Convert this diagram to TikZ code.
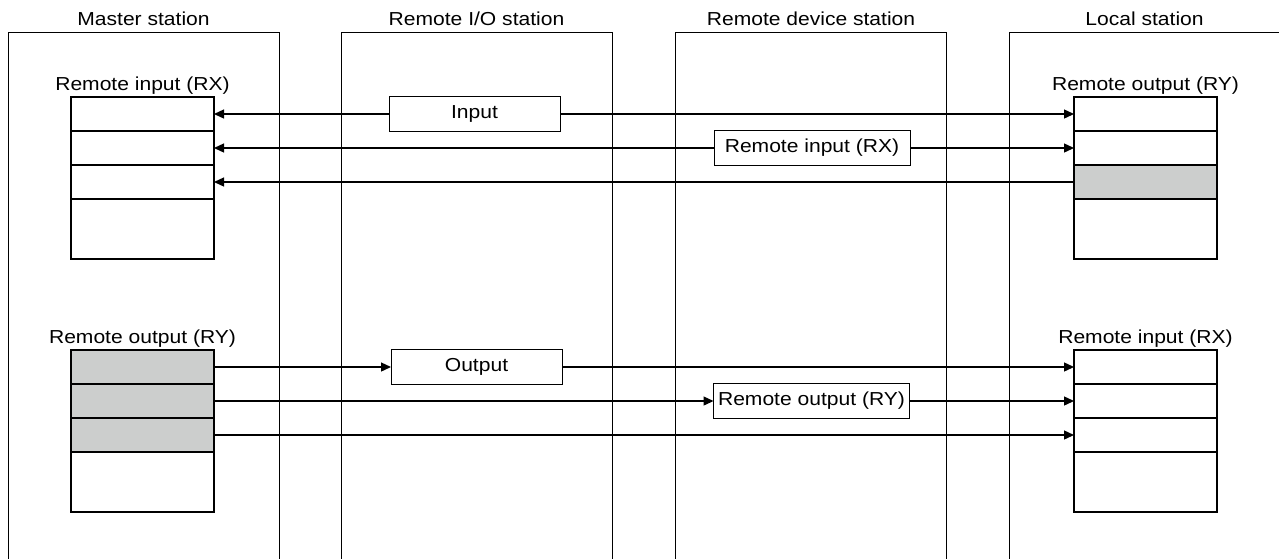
\documentclass[tikz,border=0pt]{standalone}
\usepackage{fontspec}
\setmainfont{Liberation Sans}[FakeStretch=1.12]
\usetikzlibrary{positioning,arrows.meta}
\definecolor{regfill}{RGB}{204,206,205}

\begin{document}
\begin{tikzpicture}[x=0.5pt,y=-0.5pt,font=\fontsize{9.4pt}{11pt}\selectfont,
    station/.style={draw,line width=0.5pt,minimum width=135.5pt,minimum height=266pt,inner sep=0pt,outer sep=0pt},
    cell/.style={draw,line width=0.6pt,minimum width=71.5pt,minimum height=17pt,inner sep=0pt,outer sep=0pt},
    lastcell/.style={cell,minimum height=30pt},
    ttl/.style={inner sep=0pt,text depth=0pt},
    databox/.style={draw,line width=0.5pt,minimum height=17.5pt,inner sep=0pt,outer sep=0pt},
    sig/.style={line width=0.65pt,-{Triangle[length=5pt,width=4.5pt]}}]
        \useasboundingbox (0,0) rectangle (1279,558);
        % stations
        \node[station] (master) at (143.5,298) {};
        \node[station] (io) at (476.5,298) {};
        \node[station] (dev) at (811,298) {};
        \node[station] (local) at (1144.5,298) {};
        \node[ttl,above=3pt of master.north] (mastertitle) {Master station};
        \node[ttl,above=3pt of io.north] (iotitle) {Remote I/O station};
        \node[ttl,above=3pt of dev.north] (devtitle) {Remote device station};
        \node[ttl,above=3pt of local.north] (localtitle) {Local station};
        % registers
        \foreach \i/\yy in {1/114,2/148,3/182}{
            \node[cell] (mrx\i) at (142.5,\yy) {};
            \node[cell,fill=regfill] (mry\i) at (142.5,\yy+253) {};
            \node[cell] (lrx\i) at (1145.5,\yy+253) {};
        }
        \node[cell] (lry1) at (1145.5,114) {};
        \node[cell] (lry2) at (1145.5,148) {};
        \node[cell,fill=regfill] (lry3) at (1145.5,182) {};
        \node[lastcell] (mrx4) at (142.5,229) {};
        \node[lastcell] (lry4) at (1145.5,229) {};
        \node[lastcell] (mry4) at (142.5,482) {};
        \node[lastcell] (lrx4) at (1145.5,482) {};
        \node[ttl,above=3pt of mrx1] (mrxlabel) {Remote input (RX)};
        \node[ttl,above=3pt of lry1] (lrylabel) {Remote output (RY)};
        \node[ttl,above=3pt of mry1] (mrylabel) {Remote output (RY)};
        \node[ttl,above=3pt of lrx1] (lrxlabel) {Remote input (RX)};
        % data
        \node[databox,minimum width=85.5pt] (inbox) at (474.5,114) {Input};
        \node[databox,minimum width=98pt] (rxbox) at (812,148) {Remote input (RX)};
        \node[databox,minimum width=85.5pt] (outbox) at (476.5,367) {Output};
        \node[databox,minimum width=98pt] (rybox) at (811.5,401) {Remote output (RY)};
        % links
        \draw[sig] (inbox.west) -- (mrx1.east);
        \draw[sig] (inbox.east) -- (lry1.west);
        \draw[sig] (rxbox.west) -- (mrx2.east);
        \draw[sig] (rxbox.east) -- (lry2.west);
        \draw[sig] (lry3.west) -- (mrx3.east);
        \draw[sig] (mry1.east) -- (outbox.west);
        \draw[sig] (outbox.east) -- (lrx1.west);
        \draw[sig] (mry2.east) -- (rybox.west);
        \draw[sig] (rybox.east) -- (lrx2.west);
        \draw[sig] (mry3.east) -- (lrx3.west);
    \end{tikzpicture}
\end{document}
